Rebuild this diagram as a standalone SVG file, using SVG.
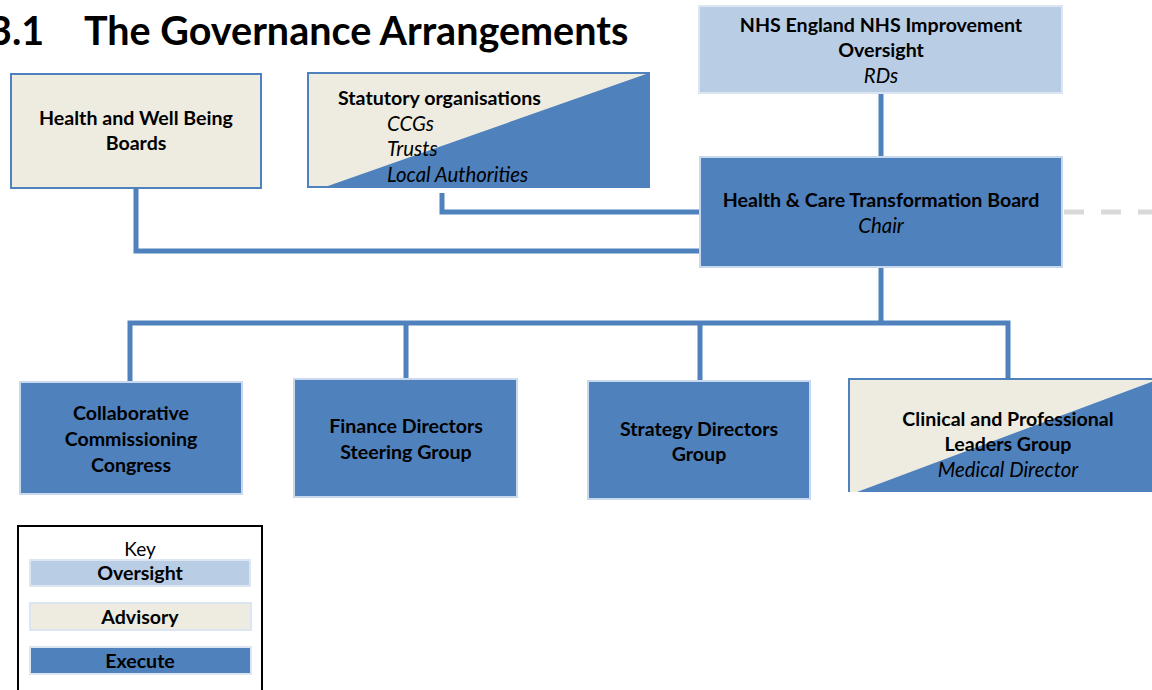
<svg xmlns="http://www.w3.org/2000/svg" width="1152" height="690" viewBox="0 0 1152 690">
  <style>
    .t { font-family: Lato, "Liberation Sans", sans-serif; fill: #000; }
    .b { font-weight: bold; font-size: 19.6px; }
    .i { font-style: italic; font-size: 20.4px; }
    .mid { text-anchor: middle; }
    .wire { fill: none; stroke: #4F81BD; stroke-width: 5; }
    .advisory { fill: #EEECE1; }
    .execute { fill: #4F81BD; }
    .oversight { fill: #B9CDE5; }
    .edge-light { stroke: #C9D8EC; stroke-width: 2; }
    .edge-blue { stroke: #4F81BD; stroke-width: 2; }
  </style>

  <!-- Heading -->
  <text class="t" x="-11" y="45" font-size="39.5" font-weight="bold">3.1</text>
  <text class="t" x="84" y="45" font-size="39.5" font-weight="bold">The Governance Arrangements</text>

  <!-- Connectors -->
  <g id="connectors">
    <path class="wire" d="M881 93 V157"/>
    <path class="wire" d="M881 267 V323"/>
    <path class="wire" d="M130 382 V323 H1008 V380"/>
    <path class="wire" d="M406 323 V380"/>
    <path class="wire" d="M700 323 V382"/>
    <path class="wire" d="M442 193 V212 H700"/>
    <path class="wire" d="M136 188 V251 H700"/>
    <path fill="none" stroke="#D9D9D9" stroke-width="5" stroke-dasharray="20 17" d="M1064 212 H1152"/>
  </g>

  <!-- Health and Well Being Boards -->
  <g id="hwb">
    <rect class="advisory edge-blue" x="11" y="74" width="250" height="114"/>
    <text class="t b mid" x="136" y="125">Health and Well Being</text>
    <text class="t b mid" x="136" y="150">Boards</text>
  </g>

  <!-- Statutory organisations -->
  <g id="statutory">
    <rect class="advisory" x="308" y="73" width="341" height="114"/>
    <polygon class="execute" points="325,187 649,73 649,187"/>
    <rect fill="none" class="edge-blue" x="308" y="73" width="341" height="114"/>
    <text class="t b" x="338" y="105">Statutory organisations</text>
    <text class="t i" x="387" y="131">CCGs</text>
    <text class="t i" x="387" y="156">Trusts</text>
    <text class="t i" x="387" y="182">Local Authorities</text>
  </g>

  <!-- NHS England / NHS Improvement -->
  <g id="nhs">
    <rect class="oversight" stroke="#DCE6F2" stroke-width="2" x="699" y="6" width="363" height="87"/>
    <text class="t b mid" x="881" y="32">NHS England NHS Improvement</text>
    <text class="t b mid" x="881" y="57">Oversight</text>
    <text class="t i mid" x="881" y="83">RDs</text>
  </g>

  <!-- Health & Care Transformation Board -->
  <g id="hctb">
    <rect class="execute edge-light" x="700" y="157" width="362" height="110"/>
    <text class="t b mid" x="881" y="207">Health &amp; Care Transformation Board</text>
    <text class="t i mid" x="881" y="233">Chair</text>
  </g>

  <!-- Collaborative Commissioning Congress -->
  <g id="ccc">
    <rect class="execute edge-light" x="20" y="382" width="222" height="112"/>
    <text class="t b mid" x="131" y="420">Collaborative</text>
    <text class="t b mid" x="131" y="446">Commissioning</text>
    <text class="t b mid" x="131" y="472">Congress</text>
  </g>

  <!-- Finance Directors Steering Group -->
  <g id="finance">
    <rect class="execute edge-light" x="294" y="379" width="223" height="118"/>
    <text class="t b mid" x="406" y="433">Finance Directors</text>
    <text class="t b mid" x="406" y="459">Steering Group</text>
  </g>

  <!-- Strategy Directors Group -->
  <g id="strategy">
    <rect class="execute edge-light" x="588" y="381" width="222" height="118"/>
    <text class="t b mid" x="699" y="436">Strategy Directors</text>
    <text class="t b mid" x="699" y="461">Group</text>
  </g>

  <!-- Clinical and Professional Leaders Group -->
  <g id="clinical">
    <rect class="advisory" x="849" y="379" width="305" height="113"/>
    <polygon class="execute" points="857,492 1154,381 1154,492"/>
    <path fill="none" class="edge-blue" d="M849 492 V379 H1154"/>
    <text class="t b mid" x="1008" y="426">Clinical and Professional</text>
    <text class="t b mid" x="1008" y="451">Leaders Group</text>
    <text class="t i mid" x="1008" y="477">Medical Director</text>
  </g>

  <!-- Key -->
  <g id="key">
    <rect fill="#FFFFFF" stroke="#000" stroke-width="2" x="18" y="526" width="244" height="170"/>
    <text class="t mid" x="140" y="556" font-size="19">Key</text>
    <rect class="oversight" stroke="#DCE6F2" stroke-width="2" x="30" y="560" width="220" height="26"/>
    <text class="t b mid" x="140" y="580">Oversight</text>
    <rect class="advisory" stroke="#DCE6F2" stroke-width="2" x="30" y="603" width="221" height="27"/>
    <text class="t b mid" x="140" y="624">Advisory</text>
    <rect class="execute" stroke="#DCE6F2" stroke-width="2" x="30" y="647" width="221" height="27"/>
    <text class="t b mid" x="140" y="668">Execute</text>
  </g>
</svg>
